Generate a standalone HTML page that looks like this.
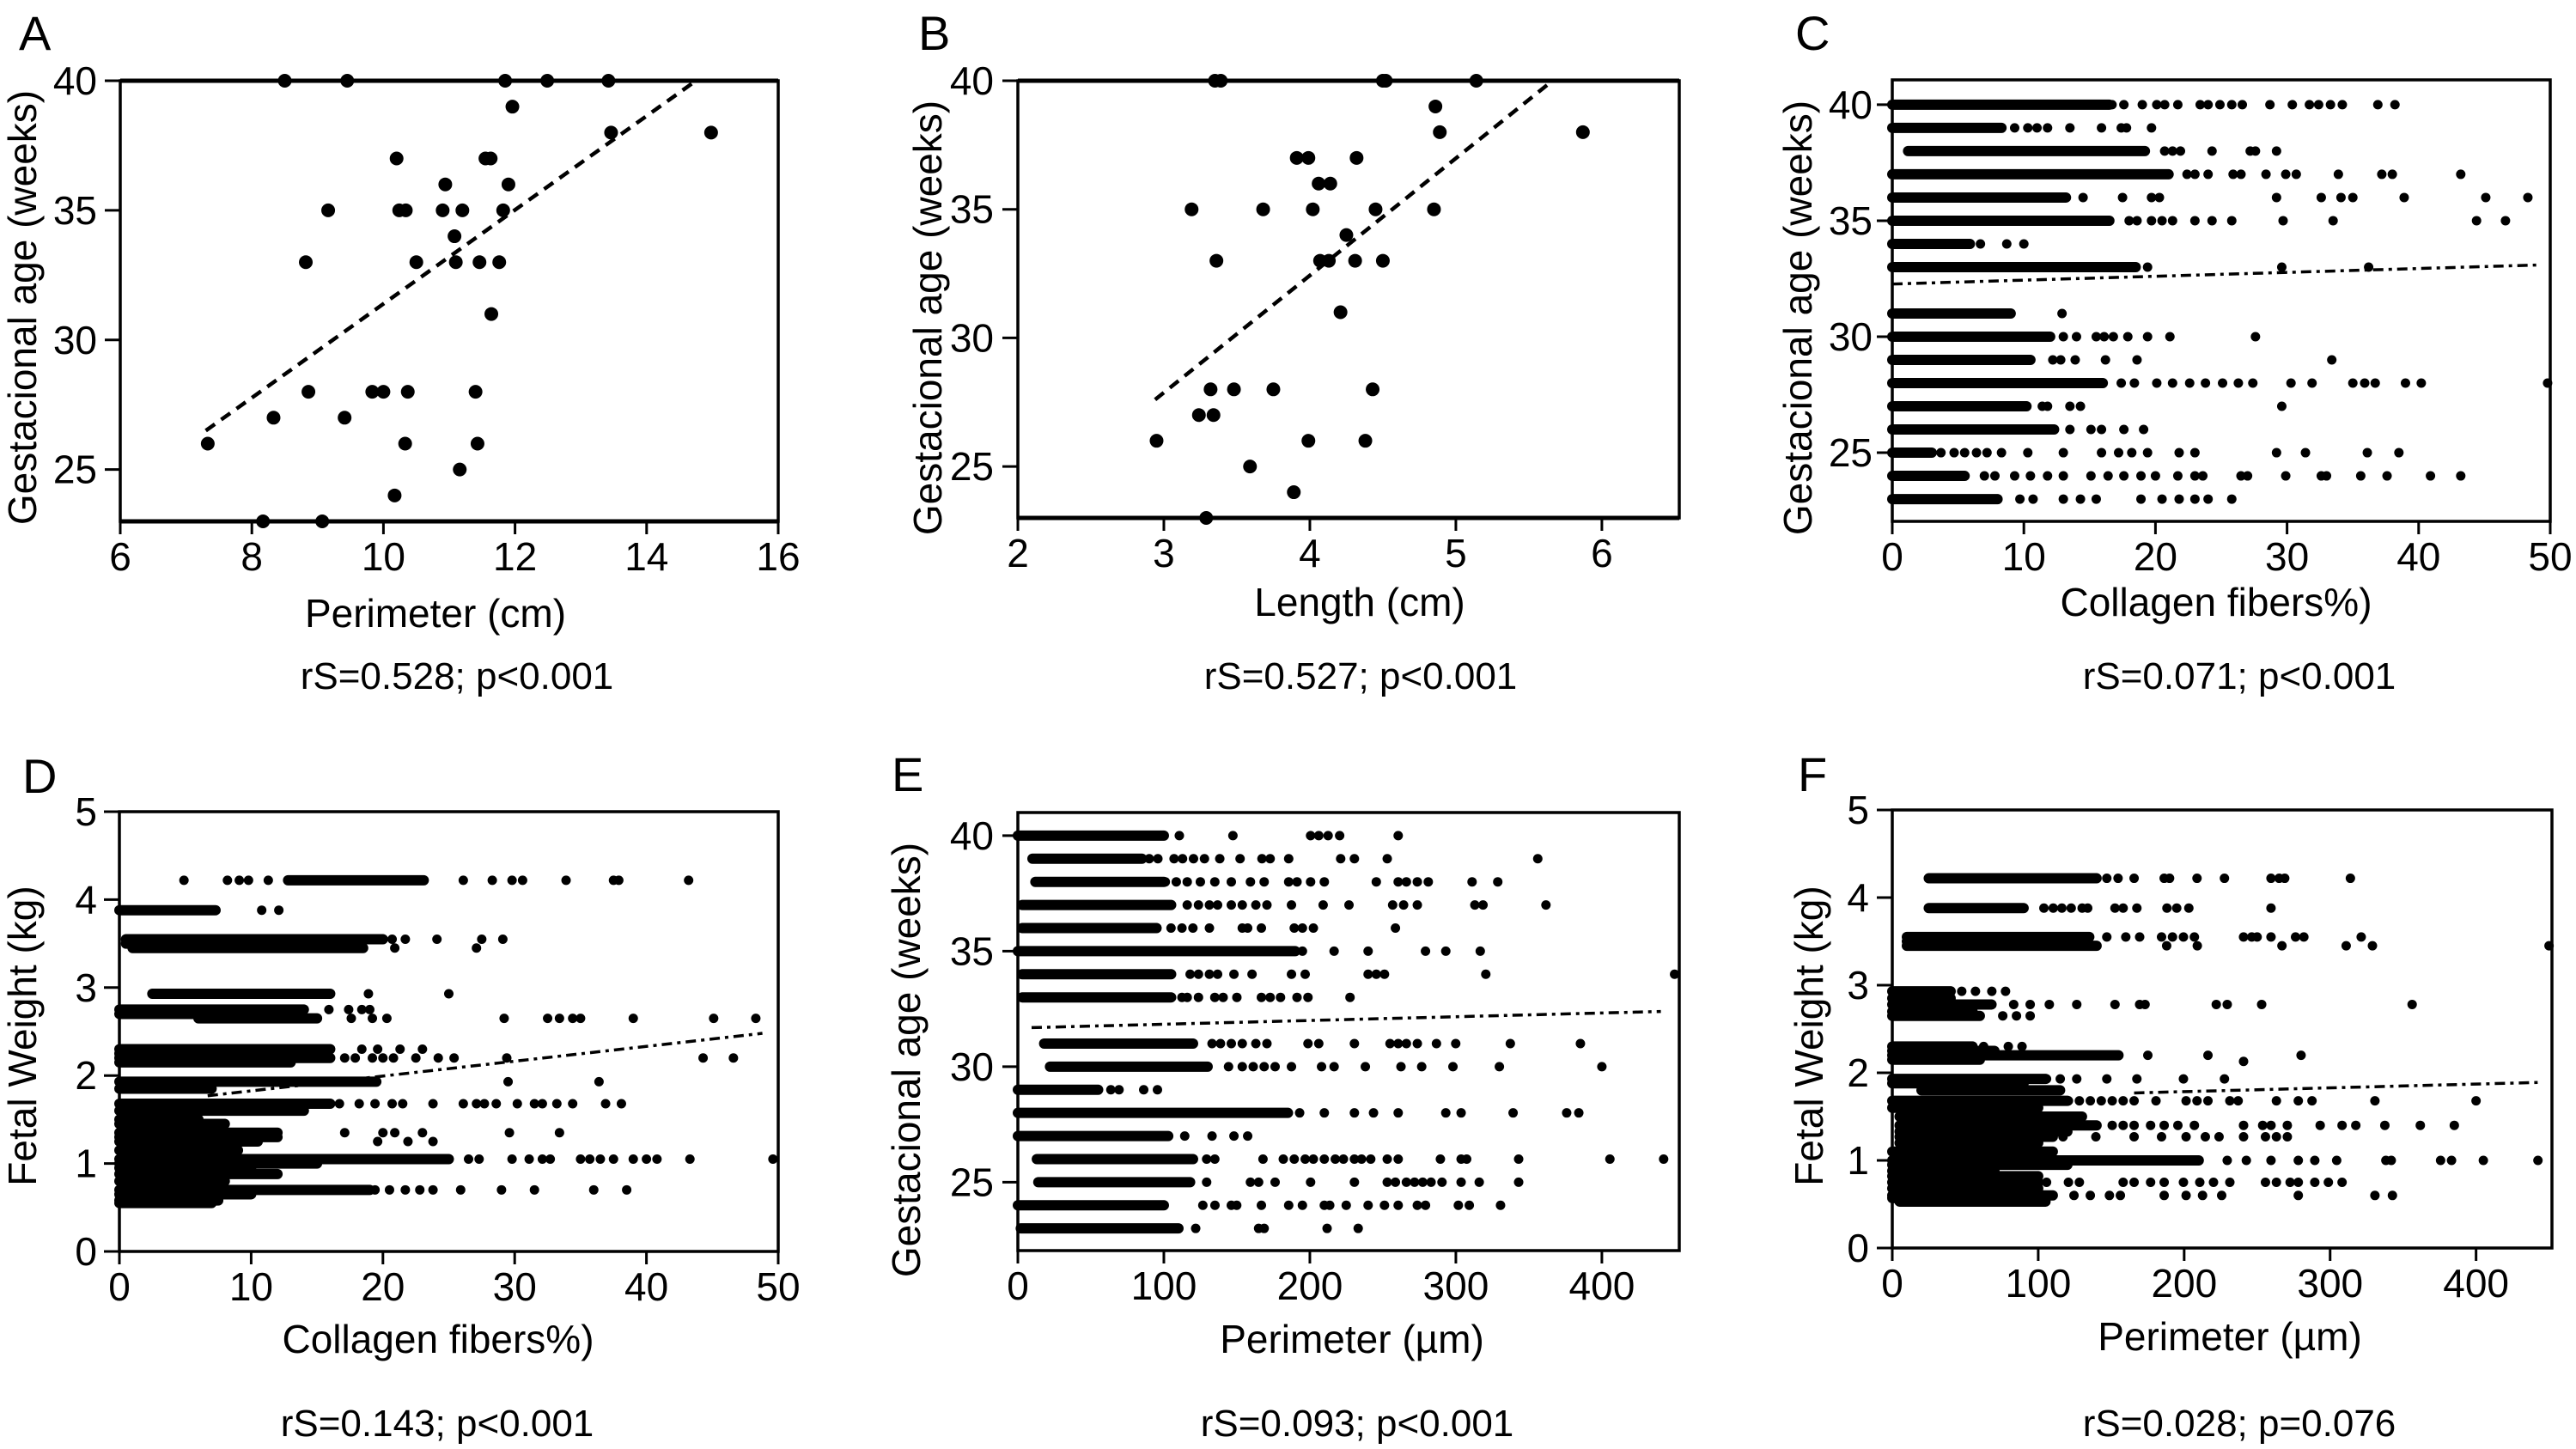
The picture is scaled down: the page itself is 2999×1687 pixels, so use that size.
<!DOCTYPE html>
<html><head><meta charset="utf-8"><style>
html,body{margin:0;padding:0;background:#fff;}
svg{display:block;font-family:"Liberation Sans",Arial,sans-serif;}
</style></head><body>
<svg id="fig" width="2999" height="1687" viewBox="0 0 2999 1687" xmlns="http://www.w3.org/2000/svg"></svg>
<script>
// ---------- Data ----------
const aX=[8.5,9.45,11.85,12.49,13.42,11.96,13.46,14.98,10.2,11.55,11.63,10.94,11.9,9.16,10.24,10.34,10.9,11.2,11.82,11.08,8.82,10.5,11.1,11.46,11.76,11.64,8.86,9.83,10.0,10.37,11.4,8.33,9.41,7.33,10.33,11.43,11.16,10.17,8.17,9.07];
const aY=[40,40,40,40,40,39,38,38,37,37,37,36,36,35,35,35,35,35,35,34,33,33,33,33,33,31,28,28,28,28,28,27,27,26,26,26,25,24,23,23];
const aTrendX=[7.3,14.75];
const aTrendY=[26.5,40];
const bX=[3.35,3.39,4.5,4.52,5.14,4.86,4.89,5.87,3.91,3.99,4.32,4.06,4.14,3.19,3.68,4.02,4.45,4.85,4.25,3.36,4.07,4.13,4.31,4.5,4.21,3.32,3.48,3.75,4.43,3.24,3.34,2.95,3.99,4.38,3.59,3.89,3.29];
const bY=[40,40,40,40,40,39,38,38,37,37,37,36,36,35,35,35,35,35,34,33,33,33,33,33,31,28,28,28,28,27,27,26,26,26,25,24,23];
const bTrendX=[2.94,5.64];
const bTrendY=[27.6,39.9];

const cRowY=[40,39,38,37,36,35,34,33,31,30,29,28,27,26,25,24,23];
const cRun0=[0,0,1.2,0,0,0,0,0,0,0,0,0,0,0,0,0,0];
const cRun1=[16.5,8.3,19.2,21,13.2,16.5,5.9,18.5,9,12,10.5,16,10.2,12.3,3,5.5,8];
const cSparse=[[16.7,17.6,19,20.1,20.7,21.7,23.4,24,24.9,25.8,26.6,28.7,30.4,31.7,32.4,33.3,34.2,36.9,38.2],[9.3,10.3,11,11.8,13.5,15.9,17.4,17.8,19.7],[20.7,21.3,21.9,24.3,27.2,27.6,29.2],[22.4,23,24,25.9,26.5,28.4,29.9,30.7,33.9,37.2,38,43.2],[14.5,17.5,19.7,20.3,29.2,32.6,34.1,35,38.9,45.1,48.3],[18,18.6,19.7,20.5,21.3,23,24.3,25.8,29.7,33.5,44.4,46.6],[6.7,8.7,10],[19.4,29.6,36.2],[12.9],[13,14,15.5,16.1,16.8,17.9,19.4,21.1,27.6],[12.2,12.8,13.9,16.2,18.6,33.4],[17.4,18.4,20.1,21.3,22.6,23.8,25.1,26.3,27.4,30.3,31.9,35,35.9,36.7,39,40.2,49.8],[11.4,11.8,13.5,14.3,29.6],[13.5,15.1,15.9,17.6,19.1],[3.7,4.7,5.5,6.4,7.2,8.3,10.3,13,15.9,17.2,18.2,19.4,21.8,23,29.2,31.4,36.1,38.5],[7,7.8,9.3,10.5,11.8,13,15.1,16.4,17.6,18.9,20,21.7,23,23.6,26.5,27,29.9,32.6,33,35.6,37.6,40.9,43.2],[9.7,10.7,13,14.3,15.5,18.9,20.5,21.8,23,24,25.8]];
const cTrendX=[0,49];
const cTrendY=[32.27,33.09];

const dRowY=[4.22,3.88,3.55,3.45,2.93,2.75,2.65,2.3,2.2,1.93,1.68,1.45,1.35,1.25,1.05,0.88,0.7,0.58,3.5,2.7,2.25,2.15,1.85,1.6,1.5,1.3,1.15,1.0,0.95,0.8,0.65,0.55];
const dRun0=[12.8,0,0.5,1,2.5,0,6,0,0,0,0,0,0,0,0,0,0,0,0.5,0,0,0,0,0,0,0,0,0,0,0,0,0];
const dRun1=[23.1,7.3,20,18.5,16,14,15,16,16,19.5,16,8,12,10.5,25,12,19,7.5,15,12,15,13,7,14,6,12,9,15,10,8,10,7];
const dSparse=[[4.9,8.2,9.1,9.8,11.3,26.1,28.3,29.8,30.6,33.9,37.5,37.9,43.2],[10.8,12.1],[20.7,21.7,24.1,27.5,29.1],[20.9,27.1],[18.9,25],[15.9,17.4,18.4,19],[17.6,19.2,20.3,29.2,32.5,33.4,34.4,35,39,45.1,48.3],[18.4,19.6,21.3,23],[17.1,17.9,19.2,20,20.8,22.5,24.2,25.4,29.4,44.3,46.6],[29.5,36.4],[16.7,18.2,19.4,20.7,21.5,23.8,26.1,27.1,27.7,28.6,30.2,31.5,32.1,33.2,34.4,36.9,38.1],[],[17.1,20,20.9,23,29.6,33.4],[19.6,21.9,23.8],[26.5,27.3,29.8,31.1,32.1,32.7,35,35.7,36.5,37.5,39,40,40.8,43.3,49.6],[],[19.4,20.5,21.7,22.8,23.8,25.9,29,31.5,36,38.5],[],[],[],[],[],[],[],[],[],[],[],[],[],[],[]];
const dTrendX=[6.7,48.8];
const dTrendY=[1.77,2.48];

const eRowY=[40,39,38,37,36,35,34,33,31,30,29,28,27,26,25,24,23];
const eRun0=[0,10,12,3,3,0,3,3,18,22,0,0,0,13,14,0,2];
const eRun1=[100,85,100,105,95,190,105,105,120,130,55,185,103,120,118,100,110];
const eSparse=[[110.6,147.3,200.5,206.1,212.5,220.4,260.5],[90,95.9,107,112.8,120.3,127.8,138.3,152.2,167.2,172.8,185.5,221.1,230.5,253,356.1],[101,108.5,116,125,134.9,146.2,159.3,168.7,185.5,191.2,200.5,209.9,245.5,260.5,266.1,273.6,281.1,311.1,328.7],[116,123.7,131.2,136.8,146.2,153.7,163,170.6,187.4,209.1,226.8,256.7,264.2,273.6,313,318.6,361.7],[104.9,112.4,119.9,131.2,153.7,157.4,166.8,189.3,194.9,202.4,258.6],[194.9,216.6,239.9,279.2,293.1,316.7],[118,123.7,131.2,136.8,148,160.4,187.4,196.8,239.9,245.5,251.1,320.5,449.8],[112.4,116,123.7,134.9,140.6,150,166.8,172.8,179.9,191.2,198.7,227.5],[133,138.8,146.2,153.7,163,170.6,198.7,206.1,230.5,254.9,260.5,266.1,273.6,286.7,299.9,337.3,385.3],[144.3,153.7,161.2,168.7,176.2,187.4,208,216.6,238,262.4,276.6,298,329.8,400],[63.7,69.3,86.2,95.6],[193,209.9,230.5,243.6,260.5,293.1,303.6,339.2,375.9,384.2],[114.3,133,148,157.4],[129.3,134.9,167.9,181.8,189.3,196.8,202.4,209.9,217.4,223,230.5,235.4,241.7,253,260.5,289.4,303.6,307.4,343,405.5,442.3],[129.3,159.3,164.9,176.2,200.5,230.5,253,258.6,266.1,271.7,277.3,283,290.5,303.6,316,343],[126.7,135,146.2,149.9,166.8,185.5,194.9,209.9,213.6,224.9,239.9,251.1,260.5,273.6,279.2,301.7,309.2,330.6],[121.8,164.9,168.7,211.8,233.1]];
const eTrendX=[9.4,440.4];
const eTrendY=[31.69,32.39];

const fRowY=[4.22,3.88,3.55,3.45,2.93,2.78,2.65,2.3,2.2,2.13,1.93,1.8,1.68,1.4,1.27,1.0,0.88,0.75,0.6,0.53,3.5,2.85,2.7,2.25,2.15,1.88,1.6,1.5,1.33,1.2,1.1,0.95,0.82,0.68,0.57];
const fRun0=[25,25,10,10,0,0,0,0,0,0,0,20,0,5,5,0,0,0,0,5,10,0,0,0,0,0,0,5,5,5,0,0,0,0,0];
const fRun1=[140,90,135,140,40,68,60,55,155,0,105,115,120,140,110,210,70,100,110,105,130,40,55,70,60,90,100,130,120,100,110,120,100,100,105];
const fSparse=[[147,154.7,165.7,186.3,190,208.8,227.6,259.5,265.1,268.9,313.9],[103.9,110.3,116.2,122.6,130.1,133.9,152.6,158.2,167.6,188.2,194.9,203.2,259.5],[147,160,169.5,184.5,192,199.5,207,240.7,246.3,250,259.5,276.3,282,321.3],[188,209,267,311,329,450],[47.6,57,68.2,77.6],[83.2,94.5,107.6,126.4,152.6,169.5,173.2,222,229.5,253.1,356.2],[75.7,85.1,94.5],[62.6,79.5,88.9],[175.1,216.3,280.1],[240.7],[105.7,115.1,126.4,147,167.6,199.5,227.6],[],[120.7,128.2,135.7,143.2,150.7,158.2,165.7,180.7,201.3,208.8,216.3,231.3,237,263.2,278.2,287.6,330.7,400],[150.7,158.2,165.7,177,186.3,195.7,207,240.7,253.8,259.5,270.7,293.2,308.2,317.6,337.5,361.8,385.1],[117,139.5,165.7,184.5,201.3,214.5,223.9,240.7,255.7,263.2,270.7],[229.5,242.6,259.5,278.2,289.5,304.5,338.2,341.9,375.7,383.2,405,442.4],[],[105.7,120.7,128.2,158.2,165.7,177,186.3,199.5,210.7,220.1,231.3,255.7,263.2,272.6,278.2,289.5,298.8,308.2],[124.5,135.7,148.8,156.3,186.3,201.3,212.6,225.7,278.2,330.7,342.7],[],[],[],[],[],[],[],[],[],[],[],[],[],[],[],[]];
const fTrendX=[165.7,443.2];
const fTrendY=[1.77,1.89];

const ticksGA=[25,30,35,40];
const ticksKg=[0,1,2,3,4,5];
const ticksA=[6,8,10,12,14,16];
const ticksB=[2,3,4,5,6];
const ticksPct=[0,10,20,30,40,50];
const ticksUm=[0,100,200,300,400];

// ---------- Drawing ----------
const NS='http://www.w3.org/2000/svg';
const svg=document.getElementById('fig');
function mk(tag,attrs,parent){const e=document.createElementNS(NS,tag);for(const k in attrs)e.setAttribute(k,attrs[k]);(parent||svg).appendChild(e);return e;}
function lin(d0,d1,p0,p1){return v=>p0+(v-d0)*(p1-p0)/(d1-d0);}

function panel(p){
  const g=mk('g',{});
  
  
  const sx=lin(p.xd[0],p.xd[1],p.px[0],p.px[1]);
  const sy=lin(p.yd[0],p.yd[1],p.py[0],p.py[1]);
  const L=p.px[0],R=p.px[1],T=p.py[1],B=p.py[0];
  const pts=mk('g',{fill:'#000'},g);
  
  
  if(p.xs){
    p.xs.forEach((x,i)=>{const c=mk('circle',{cx:sx(x),cy:sy(p.ys[i]),r:8},pts);
      
      });
  }
  if(p.rows){
    p.rows.forEach((y,i)=>{
      if(p.r1[i]>p.r0[i]){const l=mk('line',{x1:sx(p.r0[i]),x2:sx(p.r1[i]),y1:sy(y),y2:sy(y),stroke:'#000','stroke-width':12,'stroke-linecap':'round'},pts);
        
        }
      p.sp[i].forEach(x=>{const c=mk('circle',{cx:sx(x),cy:sy(y),r:5.5},pts);
        
        });
    });
  }
  const tl=mk('line',{x1:sx(p.tx[0]),y1:sy(p.ty[0]),x2:sx(p.tx[1]),y2:sy(p.ty[1]),stroke:'#000','stroke-width':p.xs?4.5:3.5,'stroke-dasharray':p.xs?'13 9':'12 6 4 6'},g);
  
  
  const fr=mk('rect',{x:L,y:T,width:R-L,height:B-T,fill:'none',stroke:'#000','stroke-width':3.5},g);
  
  
  if(p.xs){mk('line',{x1:L,x2:R,y1:T,y2:T,stroke:'#000','stroke-width':5},g);mk('line',{x1:L,x2:R,y1:B,y2:B,stroke:'#000','stroke-width':5},g);}
  p.xt.forEach(v=>{const x=sx(v);mk('line',{x1:x,x2:x,y1:B,y2:B+15,stroke:'#000','stroke-width':3},g);
    const t=mk('text',{x:x,y:B+57,'font-size':46,'text-anchor':'middle'},g);t.textContent=v;
    
    });
  p.yt.forEach(v=>{const y=sy(v);mk('line',{x1:L-18,x2:L,y1:y,y2:y,stroke:'#000','stroke-width':3},g);
    const t=mk('text',{x:p.ylx,y:y+16,'font-size':46,'text-anchor':'end'},g);t.textContent=v;
    
    });
  const xt=mk('text',{x:p.xtc,y:p.xtb,'font-size':46,'text-anchor':'middle'},g);xt.textContent=p.xtitle;
  
  
  const yt=mk('text',{x:0,y:0,'font-size':46,'text-anchor':'middle',transform:`translate(${p.ytb},${p.ytc}) rotate(-90)`},g);yt.textContent=p.ytitle;
  
  
  const lt=mk('text',{x:p.lx,y:p.ly,'font-size':56},g);lt.textContent=p.id;
  
  
  const st=mk('text',{x:p.sc,y:p.sb,'font-size':44,'text-anchor':'middle'},g);st.textContent=p.stat;
  
  
}

const GA='Gestacional age (weeks)', FW='Fetal Weight (kg)';
panel({id:'A',xd:[6,16],px:[140,906],yd:[23,40],py:[607,94],xs:aX,ys:aY,tx:aTrendX,ty:aTrendY,xt:ticksA,yt:ticksGA,ylx:113,xtitle:'Perimeter (cm)',xtc:507,xtb:730,ytitle:GA,ytb:42,ytc:358,lx:22,ly:58,stat:'rS=0.528; p<0.001',sc:532,sb:802});
panel({id:'B',xd:[2,6.53],px:[1185,1955],yd:[23,40],py:[603,94],xs:bX,ys:bY,tx:bTrendX,ty:bTrendY,xt:ticksB,yt:ticksGA,ylx:1157,xtitle:'Length (cm)',xtc:1583,xtb:717,ytitle:GA,ytb:1096,ytc:370,lx:1069,ly:58,stat:'rS=0.527; p<0.001',sc:1584,sb:802});
panel({id:'C',xd:[0,50],px:[2203,2969],yd:[22.04,41.07],py:[607,93],rows:cRowY,r0:cRun0,r1:cRun1,sp:cSparse,tx:cTrendX,ty:cTrendY,xt:ticksPct,yt:ticksGA,ylx:2180,xtitle:'Collagen fibers%)',xtc:2580,xtb:717,ytitle:GA,ytb:2109,ytc:370,lx:2090,ly:58,stat:'rS=0.071; p<0.001',sc:2607,sb:802});
panel({id:'D',xd:[0,50],px:[139,906],yd:[0,5],py:[1457,945],rows:dRowY,r0:dRun0,r1:dRun1,sp:dSparse,tx:dTrendX,ty:dTrendY,xt:ticksPct,yt:ticksKg,ylx:113,xtitle:'Collagen fibers%)',xtc:510,xtb:1575,ytitle:FW,ytb:42,ytc:1206,lx:26,ly:923,stat:'rS=0.143; p<0.001',sc:509,sb:1672});
panel({id:'E',xd:[0,453],px:[1185,1955],yd:[22.04,41.0],py:[1456,946],rows:eRowY,r0:eRun0,r1:eRun1,sp:eSparse,tx:eTrendX,ty:eTrendY,xt:ticksUm,yt:ticksGA,ylx:1157,xtitle:'Perimeter (µm)',xtc:1574,xtb:1575,ytitle:GA,ytb:1071,ytc:1234,lx:1038,ly:921,stat:'rS=0.093; p<0.001',sc:1580,sb:1672});
panel({id:'F',xd:[0,452],px:[2203,2971],yd:[0,5],py:[1453,943],rows:fRowY,r0:fRun0,r1:fRun1,sp:fSparse,tx:fTrendX,ty:fTrendY,xt:ticksUm,yt:ticksKg,ylx:2176,xtitle:'Perimeter (µm)',xtc:2596,xtb:1572,ytitle:FW,ytb:2122,ytc:1206,lx:2093,ly:921,stat:'rS=0.028; p=0.076',sc:2607,sb:1672});
</script>
</body></html>
